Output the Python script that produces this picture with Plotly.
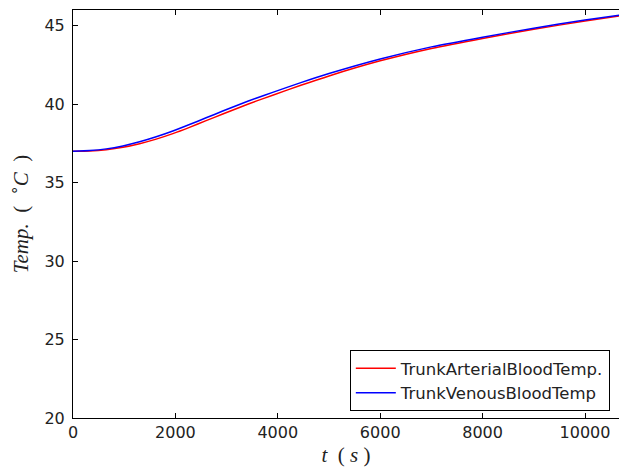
import plotly.graph_objects as go

t = [0, 325, 650, 975, 1300, 1625, 1950, 2275, 2600, 2925, 3250, 3575, 3900,
     4450, 5000, 6000, 7000, 8000, 9000, 10000, 10700]
venous = [37.0, 37.04, 37.15, 37.34, 37.60, 37.92, 38.29, 38.70, 39.13, 39.56,
          39.98, 40.38, 40.75, 41.37, 41.95, 42.88, 43.65, 44.27, 44.84, 45.36, 45.68]
arterial_offset = [0.0, 0.02, 0.05, 0.09, 0.12, 0.15, 0.17, 0.18, 0.18, 0.19,
                   0.19, 0.19, 0.18, 0.17, 0.15, 0.12, 0.1, 0.08, 0.07, 0.06, 0.05]
arterial = [v - o for v, o in zip(venous, arterial_offset)]

x_ticks = [0, 2000, 4000, 6000, 8000, 10000]
y_ticks = [20, 25, 30, 35, 40, 45]

fig = go.Figure()
fig.add_trace(go.Scatter(x=t, y=arterial, mode="lines", name="TrunkArterialBloodTemp.",
                         line=dict(color="#ff0000", width=1.5, shape="spline", smoothing=0.6)))
fig.add_trace(go.Scatter(x=t, y=venous, mode="lines", name="TrunkVenousBloodTemp",
                         line=dict(color="#0000ff", width=1.5, shape="spline", smoothing=0.6)))

tickfont = dict(family="DejaVu Sans", size=16, color="#222222")
fig.update_layout(
    width=619, height=473,
    margin=dict(l=73, r=0, t=10, b=55),
    paper_bgcolor="white", plot_bgcolor="white",
    showlegend=True,
    legend=dict(x=0.507, y=0.017, xanchor="left", yanchor="bottom",
                bgcolor="white", bordercolor="black", borderwidth=1,
                font=dict(family="DejaVu Sans", size=16.5, color="#222222"),
                itemwidth=40, tracegroupgap=0),
    xaxis=dict(range=[0, 10664], tickvals=x_ticks, ticktext=[str(v) for v in x_ticks],
               ticks="inside", ticklen=5, tickcolor="black", showgrid=False,
               zeroline=False, showline=True, linecolor="black", linewidth=1,
               mirror="ticks", tickfont=tickfont,
               title=dict(text="<i>t</i>  ( <i>s</i> )", standoff=6,
                          font=dict(family="Liberation Serif", size=21, color="#222222"))),
    yaxis=dict(range=[20, 46], tickvals=y_ticks, ticktext=[str(v) for v in y_ticks],
               ticks="inside", ticklen=5, tickcolor="black", showgrid=False,
               zeroline=False, showline=True, linecolor="black", linewidth=1,
               mirror=False, tickfont=tickfont, ticklabelstandoff=4,
               title=dict(text="<i>Temp.</i>  (  <sup>∘</sup><i>C</i>  )", standoff=10,
                          font=dict(family="Liberation Serif", size=21, color="#222222"))),
)
fig.write_html("out.html")
